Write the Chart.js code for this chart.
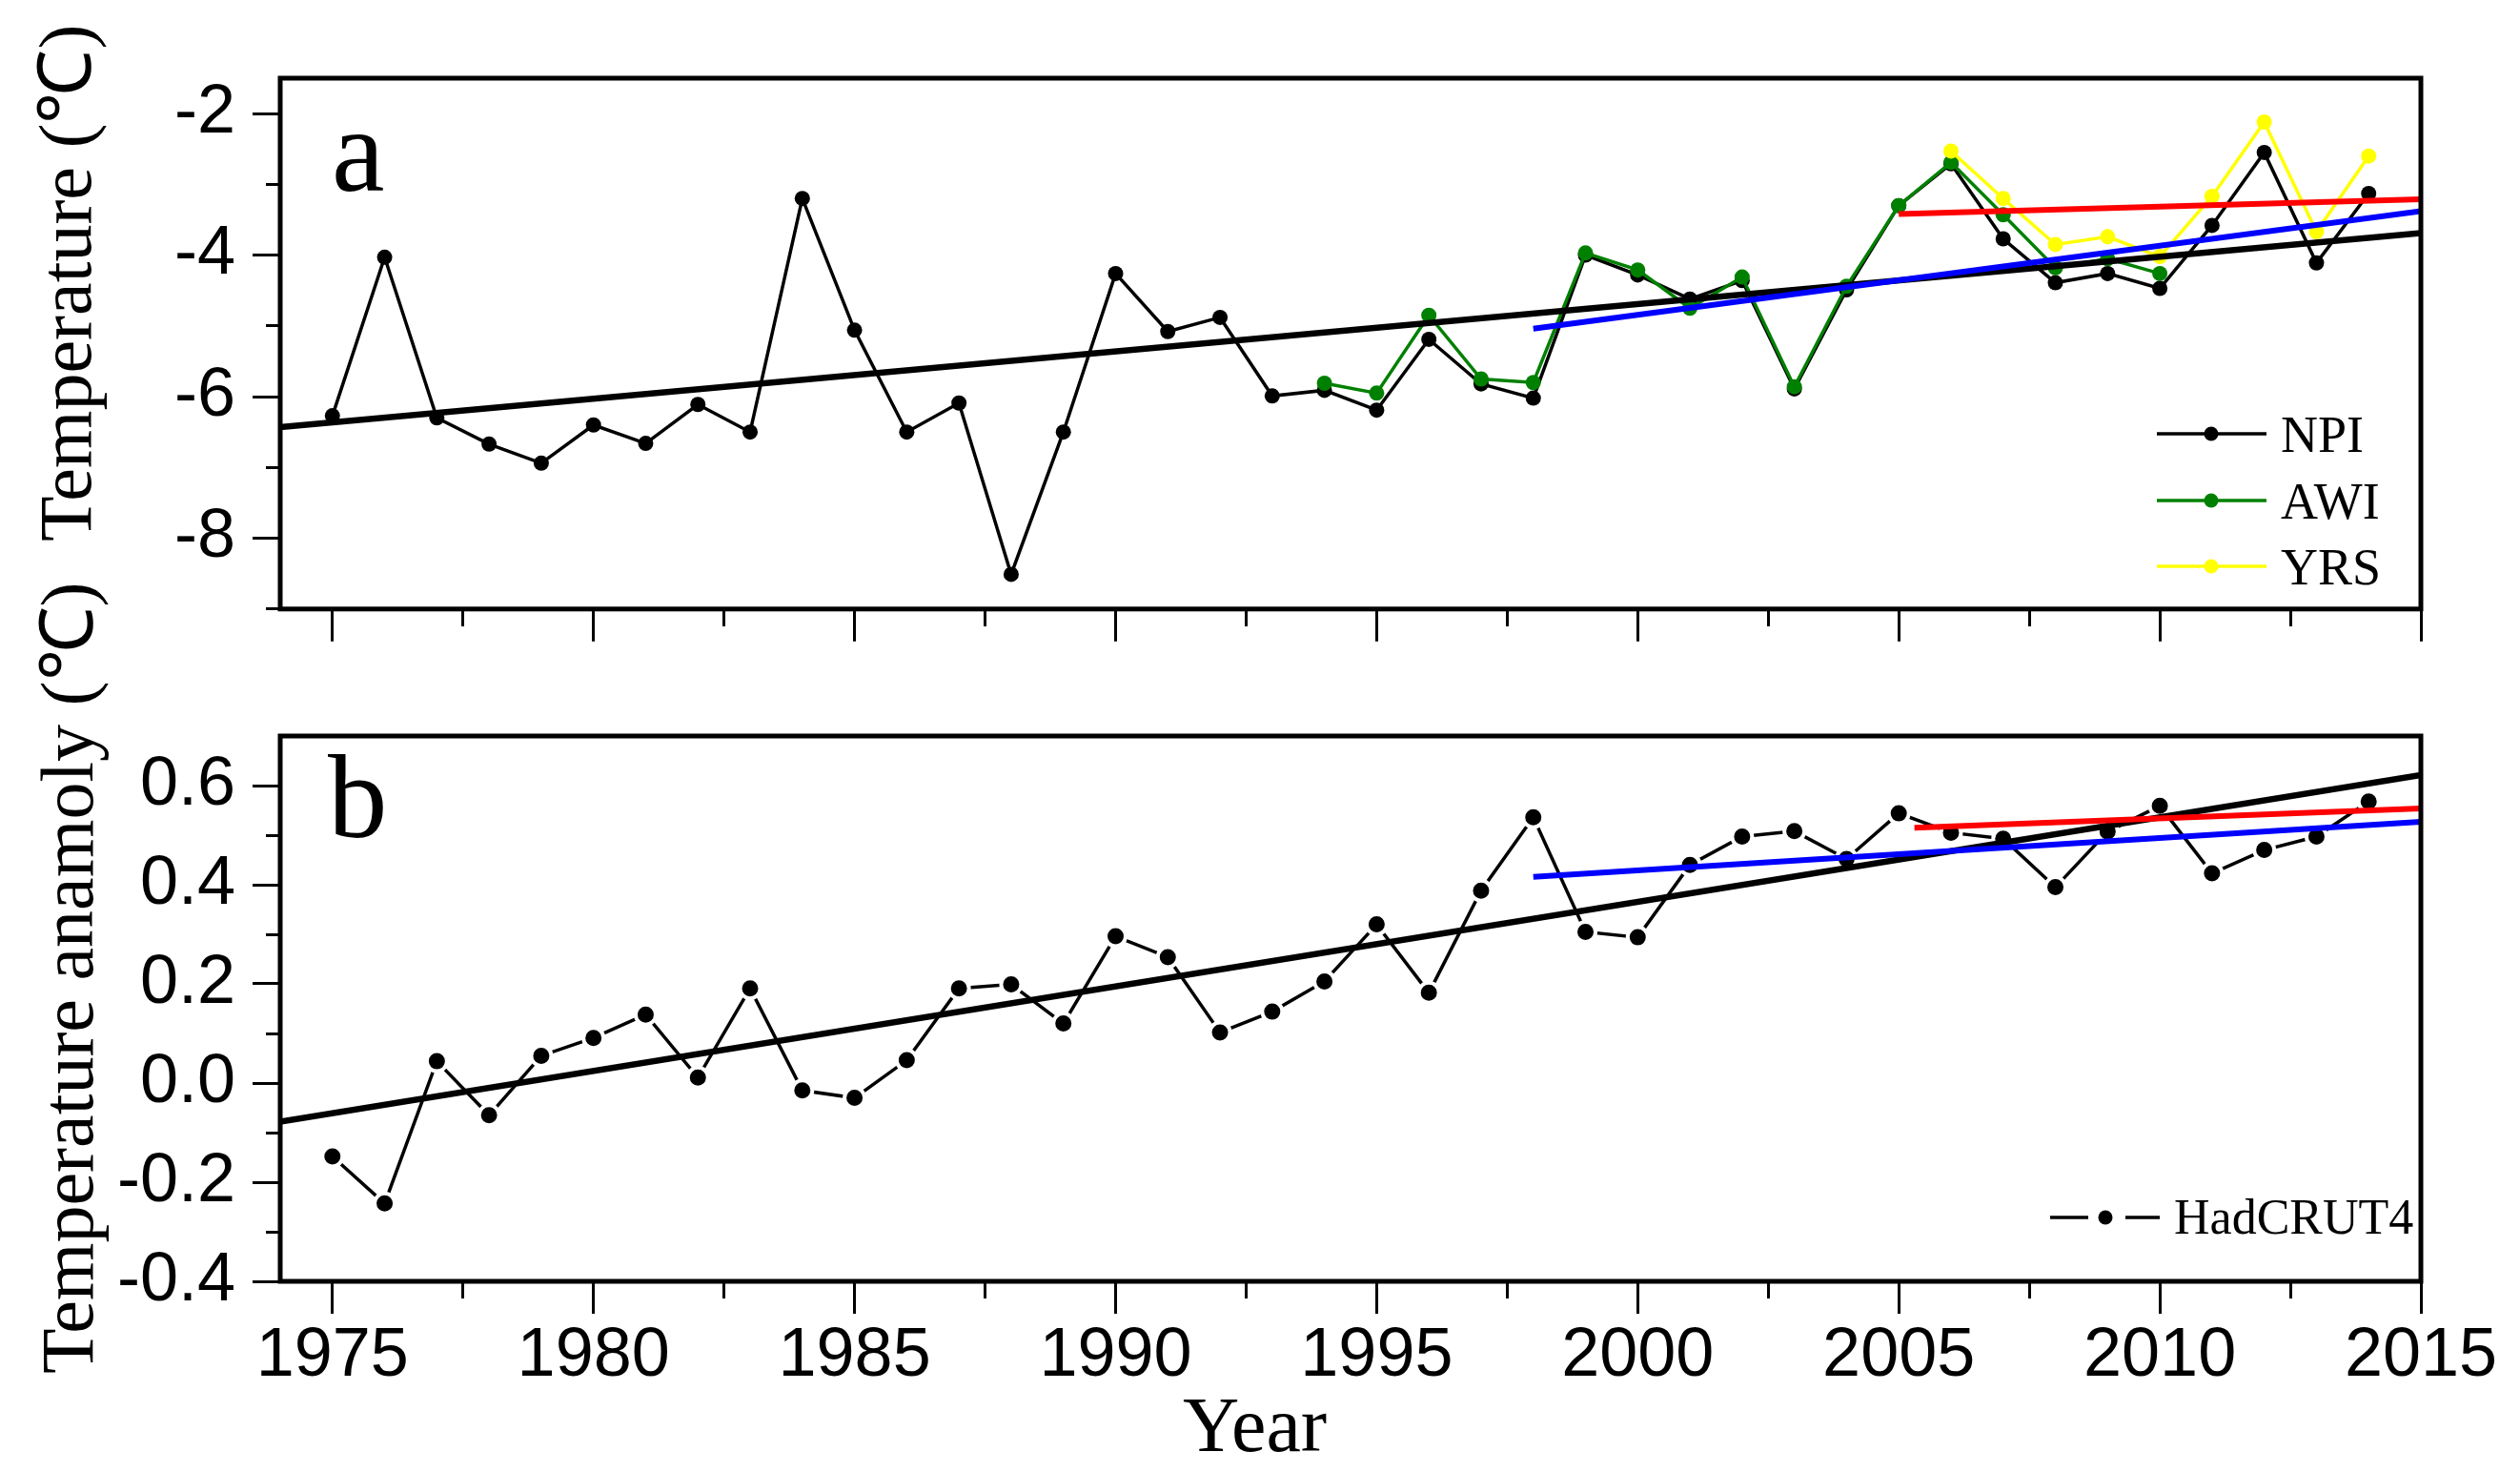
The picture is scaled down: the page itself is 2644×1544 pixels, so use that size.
<!DOCTYPE html>
<html>
<head>
<meta charset="utf-8">
<script src="https://cdn.jsdelivr.net/npm/chart.js@4.4.1/dist/chart.umd.min.js"></script>
<style>
  html, body { margin: 0; background: #fff; }
  #wrap { position: relative; width: 2644px; height: 1544px; background: #fff; }
  canvas { position: absolute; left: 0; }
  #topChart { top: 0; }
  #bottomChart { top: 580px; }
</style>
</head>
<body>
<div id="wrap">
  <canvas id="topChart" width="2644" height="700"></canvas>
  <canvas id="bottomChart" width="2644" height="964"></canvas>
</div>
<script>
// years shared by NPI and HadCRUT4
const years = [1975, 1976, 1977, 1978, 1979, 1980, 1981, 1982, 1983, 1984,
  1985, 1986, 1987, 1988, 1989, 1990, 1991, 1992, 1993, 1994,
  1995, 1996, 1997, 1998, 1999, 2000, 2001, 2002, 2003, 2004,
  2005, 2006, 2007, 2008, 2009, 2010, 2011, 2012, 2013, 2014];

// panel a: air temperature (degC)
const npiValues = [-6.27, -4.03, -6.30, -6.67, -6.94, -6.40, -6.66, -6.11, -6.50, -3.20,
  -5.06, -6.50, -6.09, -8.51, -6.50, -4.26, -5.08, -4.88, -5.99, -5.91,
  -6.19, -5.19, -5.82, -6.02, -4.00, -4.28, -4.62, -4.36, -5.89, -4.49,
  -3.30, -2.71, -3.77, -4.39, -4.26, -4.47, -3.58, -2.55, -4.11, -3.13];

const awiYears = [1994, 1995, 1996, 1997, 1998, 1999, 2000, 2001, 2002,
  2003, 2004, 2005, 2006, 2007, 2008, 2009, 2010];
const awiValues = [-5.81, -5.95, -4.85, -5.75, -5.80, -3.97, -4.21, -4.75, -4.31,
  -5.86, -4.44, -3.30, -2.69, -3.43, -4.18, -4.05, -4.26];

const yrsYears = [2006, 2007, 2008, 2009, 2010, 2011, 2012, 2013, 2014];
const yrsValues = [-2.53, -3.20, -3.85, -3.74, -4.02, -3.17, -2.12, -3.67, -2.60];

// panel b: HadCRUT4 anomaly
const hadValues = [-0.148, -0.243, 0.044, -0.065, 0.055, 0.091, 0.138, 0.011, 0.191, -0.015,
  -0.030, 0.046, 0.191, 0.199, 0.120, 0.296, 0.254, 0.102, 0.144, 0.205,
  0.320, 0.182, 0.388, 0.536, 0.305, 0.294, 0.440, 0.497, 0.508, 0.452,
  0.544, 0.505, 0.493, 0.395, 0.507, 0.559, 0.423, 0.470, 0.497, 0.568];

// linear trends (end points)
const trendAllYears = [1974, 2015];
const trend1998Years = [1998, 2015];
const topTrendAll = [-6.43, -3.69];
const topTrend1998 = [-5.04, -3.38];
const topTrend2005Years = [2005, 2015];
const topTrend2005 = [-3.42, -3.21];
const bottomTrendAll = [-0.078, 0.621];
const bottomTrend1998 = [0.416, 0.527];
const bottomTrend2005Years = [2005.3, 2015];
const bottomTrend2005 = [0.515, 0.554];

// ticks
const xMajorTicks = [1975, 1980, 1985, 1990, 1995, 2000, 2005, 2010, 2015];
const xMinorTicks = [1977.5, 1982.5, 1987.5, 1992.5, 1997.5, 2002.5, 2007.5, 2012.5];
const topMajorTicks = [-8, -6, -4, -2];
const topMinorTicks = [-9, -7, -5, -3];
const bottomMajorTicks = [-0.4, -0.2, 0, 0.2, 0.4, 0.6];
const bottomMinorTicks = [-0.3, -0.1, 0.1, 0.3, 0.5];

const serif = "'Liberation Serif', 'Times New Roman', serif";
const tickFont = { family: "'Liberation Sans', Arial, sans-serif", size: 72 };

const points = (xs, ys) => xs.map((x, i) => ({ x: x, y: ys[i] }));
const setTicks = values => scale => { scale.ticks = values.map(v => ({ value: v })); };

function dataLine(label, xs, ys, color, extra) {
  return Object.assign({
    label: label,
    data: points(xs, ys),
    borderColor: color,
    backgroundColor: color,
    pointBackgroundColor: color,
    pointBorderColor: color,
    borderWidth: 3.5,
    pointRadius: 8,
    pointBorderWidth: 0,
    tension: 0,
    xAxisID: "x",
    yAxisID: "y",
    order: 1
  }, extra || {});
}

function trendLine(xs, ys, color, width) {
  return {
    data: points(xs, ys),
    borderColor: color,
    borderWidth: width,
    borderCapStyle: "butt",
    pointRadius: 0,
    tension: 0,
    xAxisID: "x",
    yAxisID: "y",
    order: 0
  };
}

function panelScales(p) {
  return {
    x: {
      type: "linear", min: 1974, max: 2015, position: "bottom",
      afterBuildTicks: setTicks(xMajorTicks),
      afterFit: scale => { scale.height = p.xHeight; },
      ticks: {
        display: p.showYears, autoSkip: false, maxRotation: 0, padding: 2,
        color: "#000", font: tickFont, callback: v => String(v)
      },
      grid: { drawOnChartArea: false, tickLength: 34, tickWidth: 3, tickColor: "#000" },
      border: { display: false }
    },
    xMinor: {
      axis: "x", type: "linear", min: 1974, max: 2015, position: { y: p.yMin },
      afterBuildTicks: setTicks(xMinorTicks),
      ticks: { display: false },
      grid: { drawOnChartArea: false, tickLength: 18, tickWidth: 3, tickColor: "#000" },
      border: { display: false }
    },
    y: {
      type: "linear", min: p.yMin, max: p.yMax, position: "left",
      afterBuildTicks: setTicks(p.major),
      afterFit: scale => { scale.width = 294; },
      ticks: { padding: 18, color: "#000", font: tickFont, callback: p.format },
      grid: { drawOnChartArea: false, tickLength: 29, tickWidth: 3, tickColor: "#000" },
      border: { display: false }
    },
    yMinor: {
      axis: "y", type: "linear", min: p.yMin, max: p.yMax, position: { x: 1974 },
      afterBuildTicks: setTicks(p.minor),
      ticks: { display: false },
      grid: { drawOnChartArea: false, tickLength: 15, tickWidth: 3, tickColor: "#000" },
      border: { display: false }
    }
  };
}

// frame, panel letter, axis titles and the inset legend
function decor(cfg) {
  return {
    id: "decor",
    afterDraw(chart) {
      const ctx = chart.ctx;
      const a = chart.chartArea;
      ctx.save();
      ctx.strokeStyle = "#000";
      ctx.lineWidth = 5;
      ctx.strokeRect(a.left, a.top, a.right - a.left, a.bottom - a.top);

      ctx.fillStyle = "#000";
      ctx.textAlign = "left";
      ctx.textBaseline = "alphabetic";
      cfg.texts.forEach(t => {
        ctx.save();
        ctx.translate(t.x, t.y);
        ctx.rotate(t.angle || 0);
        ctx.font = t.size + "px " + serif;
        ctx.fillText(t.text, 0, 0);
        ctx.restore();
      });

      cfg.legend.forEach(item => {
        const ds = chart.data.datasets.find(d => d.label === item.label);
        ctx.strokeStyle = ds.borderColor;
        ctx.lineWidth = ds.borderWidth;
        item.segments.forEach(s => {
          ctx.beginPath();
          ctx.moveTo(s[0], item.y);
          ctx.lineTo(s[1], item.y);
          ctx.stroke();
        });
        ctx.fillStyle = ds.pointBackgroundColor;
        ctx.beginPath();
        ctx.arc(item.marker, item.y, 7.5, 0, Math.PI * 2);
        ctx.fill();
        ctx.fillStyle = "#000";
        ctx.font = item.size + "px " + serif;
        ctx.fillText(item.label, item.textX, item.y + item.shift);
      });
      ctx.restore();
    }
  };
}

const common = {
  responsive: false,
  animation: false,
  events: [],
  plugins: { legend: { display: false }, tooltip: { enabled: false } }
};

new Chart(document.getElementById("topChart"), {
  type: "line",
  data: {
    datasets: [
      trendLine(topTrend2005Years, topTrend2005, "#ff0000", 6),
      trendLine(trend1998Years, topTrend1998, "#0000ff", 6),
      trendLine(trendAllYears, topTrendAll, "#000000", 6.5),
      dataLine("YRS", yrsYears, yrsValues, "#ffff00"),
      dataLine("AWI", awiYears, awiValues, "#008000"),
      dataLine("NPI", years, npiValues, "#000000")
    ]
  },
  options: Object.assign({}, common, {
    layout: { padding: { top: 82, right: 104, left: 0, bottom: 0 } },
    scales: panelScales({
      yMin: -9, yMax: -1.5, major: topMajorTicks, minor: topMinorTicks,
      xHeight: 45, showYears: false, format: v => String(v)
    })
  }),
  plugins: [decor({
    texts: [
      { text: "a", x: 348, y: 200, size: 125 },
      { text: "Temperature (\u2103)", x: 95, y: 568, size: 78, angle: -Math.PI / 2 }
    ],
    legend: [
      { label: "NPI", y: 455, segments: [[2263, 2378]], marker: 2320, textX: 2393, size: 54, shift: 19 },
      { label: "AWI", y: 525, segments: [[2263, 2378]], marker: 2320, textX: 2393, size: 54, shift: 19 },
      { label: "YRS", y: 594, segments: [[2263, 2378]], marker: 2320, textX: 2393, size: 54, shift: 19 }
    ]
  })]
});

new Chart(document.getElementById("bottomChart"), {
  type: "line",
  data: {
    datasets: [
      trendLine(bottomTrend2005Years, bottomTrend2005, "#ff0000", 6),
      trendLine(trend1998Years, bottomTrend1998, "#0000ff", 6),
      trendLine(trendAllYears, bottomTrendAll, "#000000", 6.5),
      dataLine("HadCRUT4", years, hadValues, "#000000", {
        pointRadius: 10.5, pointBorderWidth: 4, pointBorderColor: "#ffffff", borderWidth: 3.5
      })
    ]
  },
  options: Object.assign({}, common, {
    layout: { padding: { top: 192, right: 104, left: 0, bottom: 0 } },
    scales: panelScales({
      yMin: -0.4, yMax: 0.7, major: bottomMajorTicks, minor: bottomMinorTicks,
      xHeight: 200, showYears: true, format: v => v.toFixed(1)
    })
  }),
  plugins: [decor({
    texts: [
      { text: "b", x: 344, y: 298, size: 125 },
      { text: "Temperature anamoly (\u2103)", x: 97, y: 861, size: 78, angle: -Math.PI / 2 },
      { text: "Year", x: 1241, y: 942, size: 82 }
    ],
    legend: [
      { label: "HadCRUT4", y: 697, segments: [[2151, 2191], [2230, 2266]], marker: 2209, textX: 2281, size: 52, shift: 17 }
    ]
  })]
});
</script>
</body>
</html>
